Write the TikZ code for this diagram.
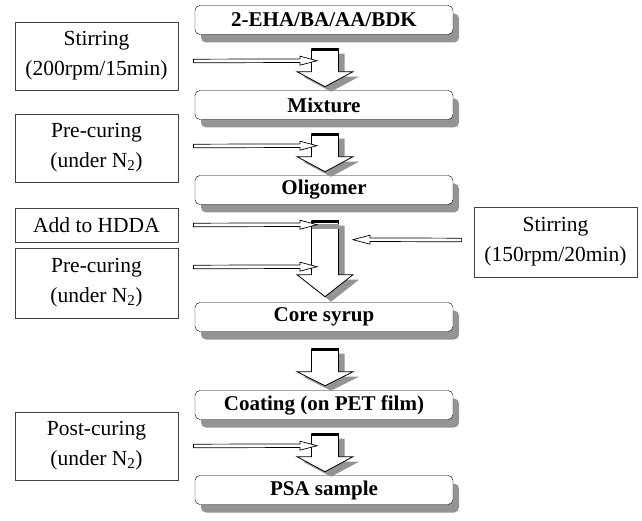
\documentclass[tikz,border=0pt]{standalone}
\usepackage{fontspec}
\setmainfont{Liberation Serif}
\usetikzlibrary{positioning, calc, shadows}

% hollow horizontal arrow: start, tip, signed head length
\newcommand{\hollowarrow}[3]{%
  \draw[thinarrow] ($(#1)+(0,-1.8)$) -- ($(#2)-({#3},1.8)$) -- ($(#2)-({#3},4.5)$) -- (#2)
    -- ($(#2)-({#3},-4.5)$) -- ($(#2)-({#3},-1.8)$) -- ($(#1)+(0,1.8)$) -- cycle;
}
% block arrow pointing down: top, shaft length, head length
\newcommand{\blockdown}[3]{%
  \begin{scope}[shift={(#1)}]
    \fill[shadowgray, shift={(6,5)}] (-13.5,0) -- (13.5,0) -- (13.5,#2) -- (28,#2) -- (0,#2+#3)
      -- (-28,#2) -- (-13.5,#2) -- cycle;
    \draw[blockarr] (-13.5,0) -- (13.5,0) -- (13.5,#2) -- (28,#2) -- (0,#2+#3)
      -- (-28,#2) -- (-13.5,#2) -- cycle;
    \draw[line width=2.5pt] (-13.5,1) -- (13.5,1);
  \end{scope}
}

\begin{document}
\begin{tikzpicture}[x=1pt, y=-1pt, font=\fontsize{21.5}{24}\selectfont]
    \tikzset{shadowgray/.style={fill=black!42}}
    \tikzstyle{main}=[draw=black, rounded corners=5pt, fill=white, minimum width=258pt, minimum height=29pt, inner sep=0pt, font=\fontsize{21}{24}\selectfont\bfseries, drop shadow={shadow xshift=6pt, shadow yshift=-8pt, fill=black!42, opacity=1}]
    \tikzstyle{cond}=[draw=black!75, line width=0.8pt, rectangle, minimum width=163pt, inner sep=0pt, align=center]
    \tikzstyle{thinarrow}=[draw=black, line width=0.7pt, fill=white]
    \tikzstyle{blockarr}=[draw=black, line width=0.8pt, fill=white]

    \useasboundingbox (0,0) rectangle (642,521);

    % main flow
    \node[main] (mono) at (324,20) {2-EHA/BA/AA/BDK};
    \node[main] (mix) at (324,105) {Mixture};
    \node[main] (olig) at (324,190) {Oligomer};
    \node[main] (core) at (324,317) {Core syrup};
    \node[main] (coat) at (324,405) {Coating (on PET film)};
    \node[main] (psa) at (324,490) {PSA sample};

    % conditions
    \node[cond, minimum height=68pt] (stir1) at (96.5,56) {Stirring\\[6pt](200rpm/15min)};
    \node[cond, minimum height=68pt] (pre1) at (96.5,148) {Pre-curing\\[6pt](under N\textsubscript{2})};
    \node[cond, minimum height=34pt] (hdda) at (96.5,225.5) {Add to HDDA};
    \node[cond, minimum height=70pt] (pre2) at (96.5,283) {Pre-curing\\[6pt](under N\textsubscript{2})};
    \node[cond, minimum height=68pt] (post) at (96.5,446) {Post-curing\\[6pt](under N\textsubscript{2})};
    \node[cond, minimum height=70pt] (stir2) at (555.5,242) {Stirring\\[6pt](150rpm/20min)};

    % block arrows
    \coordinate (t1) at ($(mono.south)+(1,14)$);
    \coordinate (t2) at ($(mix.south)+(1,14)$);
    \coordinate (t3) at ($(olig.south)+(1,16)$);
    \coordinate (t4) at ($(core.south)+(1,17)$);
    \coordinate (t5) at ($(coat.south)+(1,14)$);
    \blockdown{t1}{23}{15}
    \blockdown{t2}{23}{15}
    \blockdown{t3}{54}{22}
    \fill[black!42] ($(t3)+(-13.5,3)$) rectangle ($(t3)+(13.5,8)$);
    \blockdown{t4}{23}{14}
    \blockdown{t5}{23}{15}

    % thin arrows
    \coordinate (s1) at (stir1.east |- 0,61);
    \coordinate (s2) at (pre1.east |- 0,146);
    \coordinate (s3) at (hdda.east |- 0,225);
    \coordinate (s4) at (pre2.east |- 0,267);
    \coordinate (s5) at (post.east |- 0,446);
    \coordinate (s6) at (stir2.west |- 0,240);
    \hollowarrow{$(s1)+(15,0)$}{$(t1)+(-8,12)$}{17}
    \hollowarrow{$(s2)+(15,0)$}{$(t2)+(-8,12)$}{17}
    \hollowarrow{$(s3)+(15,0)$}{$(t3)+(-8,4)$}{17}
    \hollowarrow{$(s4)+(15,0)$}{$(t3)+(-8,46)$}{17}
    \hollowarrow{$(s5)+(15,0)$}{$(t5)+(-8,12)$}{17}
    \hollowarrow{$(s6)+(-12,0)$}{$(t3)+(28,19)$}{-17}
\end{tikzpicture}
\end{document}
